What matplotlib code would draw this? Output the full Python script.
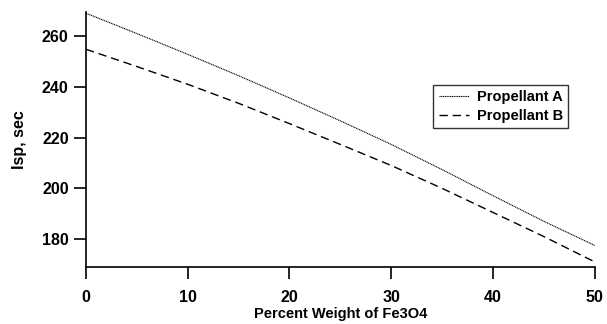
import matplotlib
matplotlib.use("Agg")
import matplotlib.pyplot as plt

plt.rcParams['font.family'] = ['Liberation Sans', 'DejaVu Sans']
plt.rcParams['font.weight'] = 'bold'

pct_fe3o4 = [0, 5, 10, 15, 20, 25, 30, 35, 40, 45, 50]
isp_a = [269.0, 261.0, 252.8, 244.4, 235.6, 226.6, 217.3, 207.4, 197.1, 187.0, 177.5]
isp_b = [254.8, 248.0, 241.0, 233.5, 225.5, 217.3, 209.0, 200.0, 190.5, 181.0, 171.0]
x_ticks = [0, 10, 20, 30, 40, 50]
y_ticks = [180, 200, 220, 240, 260]

fig = plt.figure(figsize=(6.07, 3.24), dpi=100)
ax = fig.add_axes([0.1417, 0.176, 0.838, 0.787])

ax.plot(pct_fe3o4, isp_a, color='black', lw=0.8, linestyle=(0, (1, 0.6)), label='Propellant A')
ax.plot(pct_fe3o4, isp_b, color='black', lw=1.0, linestyle=(0, (6, 3.5)), label='Propellant B')

ax.set_xlim(0, 50)
ax.set_ylim(169, 269.5)
ax.set_xticks(x_ticks)
ax.set_yticks(y_ticks)
ax.spines['top'].set_visible(False)
ax.spines['right'].set_visible(False)
for s in ('left', 'bottom'):
    ax.spines[s].set_linewidth(1.2)
ax.tick_params(axis='both', direction='out', length=8.5, width=1.2, labelsize=11.5, pad=4)
ax.tick_params(axis='x', pad=8)
for lbl in ax.get_xticklabels() + ax.get_yticklabels():
    lbl.set_fontweight('bold')

ax.set_xlabel('Percent Weight of Fe3O4', fontsize=10.5, fontweight='bold', labelpad=1.5)
ax.set_ylabel('Isp, sec', fontsize=11.5, fontweight='bold', labelpad=11)

leg = ax.legend(loc='upper left', bbox_to_anchor=(0.683, 0.713), frameon=True, fancybox=False,
                edgecolor='black', fontsize=10.5, handlelength=2.1, handletextpad=0.55,
                borderpad=0.35, labelspacing=0.3, borderaxespad=0)
leg.get_frame().set_linewidth(1.0)
for t in leg.get_texts():
    t.set_fontweight('bold')

fig.savefig('out.png', dpi=100)
